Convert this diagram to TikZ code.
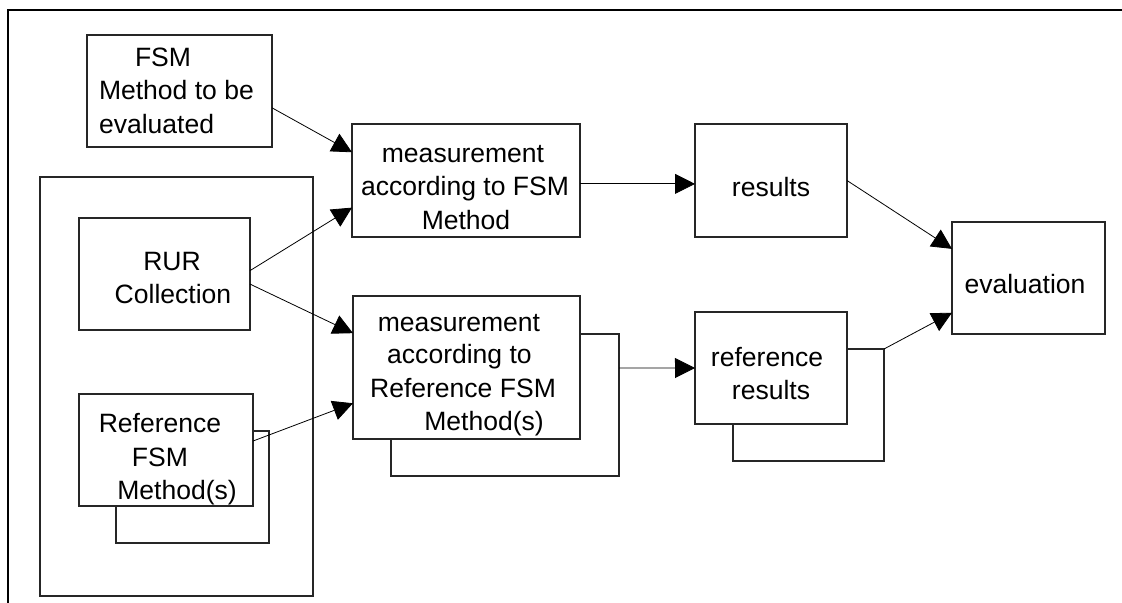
\documentclass[tikz,border=0pt]{standalone}
\usepackage{fontspec}
\setmainfont{Liberation Sans}
\usetikzlibrary{arrows.meta,calc}
\begin{document}
\begin{tikzpicture}[x=0.75pt,y=-0.75pt,
  box/.style={draw=black!85,line width=0.8pt,fill=white,inner sep=0pt,outer sep=0pt},
  txt/.style={inner sep=0pt,outer sep=0pt,font=\fontsize{19.9pt}{24pt}\selectfont,anchor=base},
  txtl/.style={txt,anchor=base west},
  arr/.style={line width=0.6pt,-{Triangle[length=15pt,width=15pt]}}]
\useasboundingbox (0,0) rectangle (1122,603);
% frame
\draw[line width=1.9pt] (8,603) -- (8,10) -- (1122,10);
% boxes
\node[box,minimum width=138.75pt,minimum height=84pt] (fsm) at (179.5,91) {};
\node[box,minimum width=204.75pt,minimum height=314.25pt] (cont) at (176.5,386.5) {};
\node[box,minimum width=128.25pt,minimum height=84pt] (rur) at (164.5,274) {};
\node[box,minimum width=114.75pt,minimum height=84pt] (refsh) at (192.5,487) {};
\node[box,minimum width=130.5pt,minimum height=84pt] (ref) at (166,450) {};
\node[box,minimum width=171pt,minimum height=84.75pt] (m1) at (466,180.5) {};
\node[box,minimum width=171pt,minimum height=106.5pt] (m2sh) at (505,405) {};
\node[box,minimum width=170.25pt,minimum height=107.25pt] (m2) at (466.5,367.5) {};
\node[box,minimum width=114pt,minimum height=84.75pt] (res) at (771,180.5) {};
\node[box,minimum width=113.25pt,minimum height=84pt] (rrsh) at (808.5,405) {};
\node[box,minimum width=114pt,minimum height=84pt] (rr) at (771,368) {};
\node[box,minimum width=114.75pt,minimum height=84pt] (ev) at (1028.5,278) {};
% texts
\node[txtl] (t1) at (135,66) {FSM};
\node[txtl] (t2) at (99,99) {Method to be};
\node[txtl] (t3) at (99,133) {evaluated};
\node[txt] (t4) at (172,270) {RUR};
\node[txt] (t5) at (173,303) {Collection};
\node[txt] (t6) at (160,432) {Reference};
\node[txt] (t7) at (160,466) {FSM};
\node[txt] (t8) at (177,499) {Method(s)};
\node[txt] (t9) at (463,162) {measurement};
\node[txt] (t10) at (465,195) {according to FSM};
\node[txt] (t11) at (466,229) {Method};
\node[txt] (t12) at (459,331) {measurement};
\node[txt] (t13) at (459.5,363) {according to};
\node[txt] (t14) at (463,397) {Reference FSM};
\node[txt] (t15) at (484,430) {Method(s)};
\node[txt] (t16) at (771,196) {results};
\node[txt] (t17) at (767,366) {reference};
\node[txt] (t18) at (771,399) {results};
\node[txt] (t19) at (1025,293) {evaluation};
% connectors
\draw[arr] ($(fsm.north east)!0.65!(fsm.south east)$) -- ($(m1.north west)!0.25!(m1.south west)$);
\draw[arr] ($(rur.north east)!0.47!(rur.south east)$) -- ($(m1.north west)!0.74!(m1.south west)$);
\draw[arr] ($(rur.north east)!0.59!(rur.south east)$) -- ($(m2.north west)!0.26!(m2.south west)$);
\draw[arr] ($(ref.north east)!0.42!(ref.south east)$) -- ($(m2.north west)!0.75!(m2.south west)$);
\draw[arr] ($(m1.north east)!0.53!(m1.south east)$) -- ($(res.north west)!0.53!(res.south west)$);
\draw[arr] ($(m2sh.north east)!0.24!(m2sh.south east)$) -- ($(rr.north west)!0.5!(rr.south west)$);
\draw[arr] ($(res.north east)!0.5!(res.south east)$) -- ($(ev.north west)!0.24!(ev.south west)$);
\draw[arr] (rrsh.north east) -- ($(ev.north west)!0.81!(ev.south west)$);
\end{tikzpicture}
\end{document}
